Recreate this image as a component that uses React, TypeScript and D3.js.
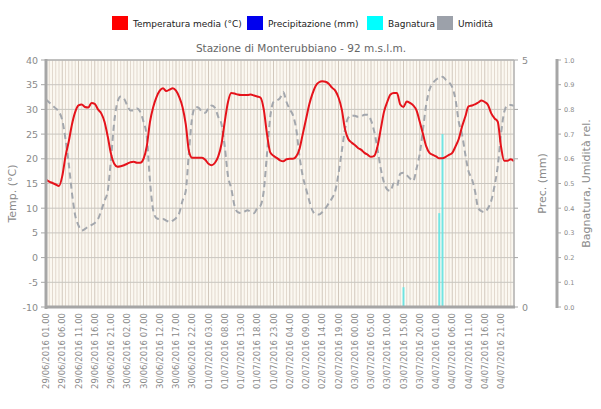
import React from "react";
import * as d3 from "d3";

// Hourly series starting 29/06/2016 01:00 (index 0) to 05/07/2016 01:00 (index 144)
const temperature: number[] = [
  15.8, 15.4, 15.1, 14.8, 14.5, 16.5, 20.5, 23.5, 27.0, 29.5,
  30.8, 31.0, 30.5, 30.4, 31.3, 31.1, 30.0, 29.2, 27.5, 24.5,
  21.0, 19.0, 18.4, 18.5, 18.7, 19.0, 19.3, 19.4, 19.2, 19.2,
  20.0, 22.5, 27.5, 30.5, 32.5, 33.8, 34.3, 33.7, 34.0, 34.3,
  33.8, 32.5, 30.5, 27.0, 21.5, 20.2, 20.2, 20.2, 20.2, 19.8,
  19.0, 18.7, 19.2, 20.5, 23.0, 27.5, 31.5, 33.3, 33.2, 33.0,
  32.9, 32.9, 32.9, 33.0, 32.8, 32.6, 32.4, 30.0, 25.0, 21.3,
  20.6, 20.2, 19.7, 19.5, 19.9, 20.0, 20.0, 20.5, 22.0, 25.0,
  28.0, 31.0, 33.2, 34.8, 35.5, 35.7, 35.6, 35.2, 34.4, 33.8,
  32.4, 30.0, 26.0, 24.0, 23.3, 22.8, 22.2, 21.8, 21.2, 20.8,
  20.4, 20.6, 22.5, 26.0, 29.5, 31.5, 33.0, 33.3, 33.3, 31.0,
  30.5, 31.6, 31.3, 30.8, 29.8, 27.5, 25.0, 22.5, 21.2, 20.8,
  20.5, 20.1, 20.1, 20.4, 20.8, 21.2, 22.5, 24.0, 26.5, 28.5,
  30.6, 30.8, 31.0, 31.4, 31.8, 31.5, 30.9, 29.2, 28.2, 27.5,
  22.5, 19.6, 19.6, 19.9, 19.5,
];

const humidity: number[] = [
  0.84, 0.828, 0.816, 0.804, 0.79, 0.756, 0.68, 0.58, 0.46, 0.37,
  0.33, 0.31, 0.316, 0.326, 0.332, 0.34, 0.356, 0.39, 0.43, 0.47,
  0.6, 0.75, 0.83, 0.852, 0.844, 0.816, 0.796, 0.796, 0.804, 0.79,
  0.75, 0.69, 0.51, 0.39, 0.36, 0.356, 0.356, 0.35, 0.344, 0.35,
  0.36, 0.38, 0.43, 0.47, 0.63, 0.77, 0.81, 0.806, 0.79, 0.786,
  0.806, 0.816, 0.806, 0.77, 0.74, 0.65, 0.53, 0.48, 0.41, 0.384,
  0.38, 0.386, 0.392, 0.386, 0.38, 0.4, 0.41, 0.47, 0.62, 0.77,
  0.83, 0.836, 0.846, 0.87, 0.83, 0.8, 0.776, 0.72, 0.61, 0.53,
  0.48, 0.43, 0.39, 0.376, 0.374, 0.384, 0.4, 0.42, 0.44, 0.47,
  0.54, 0.63, 0.72, 0.766, 0.776, 0.774, 0.77, 0.772, 0.778, 0.778,
  0.756, 0.71, 0.64, 0.56, 0.504, 0.476, 0.47, 0.5, 0.49, 0.54,
  0.544, 0.534, 0.52, 0.51, 0.56, 0.62, 0.72, 0.82, 0.88, 0.906,
  0.92, 0.928, 0.932, 0.92, 0.91, 0.89, 0.84, 0.75, 0.7, 0.62,
  0.55, 0.52, 0.47, 0.4, 0.388, 0.384, 0.4, 0.43, 0.49, 0.57,
  0.7, 0.79, 0.816, 0.818, 0.814,
];

const wetnessHours: number[] = [110, 121, 122];
const wetnessValues: number[] = [0.08, 0.38, 0.7];

const tickLabels: string[] = [
  "29/06/2016 01.00", "29/06/2016 06.00", "29/06/2016 11.00", "29/06/2016 16.00", "29/06/2016 21.00",
  "30/06/2016 02.00", "30/06/2016 07.00", "30/06/2016 12.00", "30/06/2016 17.00", "30/06/2016 22.00",
  "01/07/2016 03.00", "01/07/2016 08.00", "01/07/2016 13.00", "01/07/2016 18.00", "01/07/2016 23.00",
  "02/07/2016 04.00", "02/07/2016 09.00", "02/07/2016 14.00", "02/07/2016 19.00",
  "03/07/2016 00.00", "03/07/2016 05.00", "03/07/2016 10.00", "03/07/2016 15.00", "03/07/2016 20.00",
  "04/07/2016 01.00", "04/07/2016 06.00", "04/07/2016 11.00", "04/07/2016 16.00", "04/07/2016 21.00",
];
const tickStep = 5;

const tempTicks: number[] = [-10, -5, 0, 5, 10, 15, 20, 25, 30, 35, 40];
const relTicks: number[] = [0, 0.1, 0.2, 0.3, 0.4, 0.5, 0.6, 0.7, 0.8, 0.9, 1.0];

const legendItems: { label: string; color: string }[] = [
  { label: "Temperatura media (°C)", color: "#ff0000" },
  { label: "Precipitazione (mm)", color: "#0000ee" },
  { label: "Bagnatura", color: "#00ffff" },
  { label: "Umidità", color: "#9ca1aa" },
];

const FONT = "'DejaVu Sans', Verdana, sans-serif";

export default function App() {
  const L = 46, R = 514, T = 60, B = 307;
  const n = temperature.length;
  const x = d3.scaleLinear().domain([0, n - 1]).range([L, R]);
  const yT = d3.scaleLinear().domain([-10, 40]).range([B, T]);
  const yRel = d3.scaleLinear().domain([0, 1]).range([B, T]);
  const yP = d3.scaleLinear().domain([0, 5]).range([B, T]);

  const tLine = d3.line<number>().x((_, i) => x(i)).y((d) => yT(d)).curve(d3.curveMonotoneX);
  const hLine = d3.line<number>().x((_, i) => x(i)).y((d) => yRel(d)).curve(d3.curveMonotoneX);

  const hours = d3.range(n);
  const legendX = [112, 247, 367, 437];
  const axisColor = "#a6a6a6";
  const textColor = "#8a8a8a";

  return (
    <svg width={601} height={409} style={{ position: "absolute", left: 0, top: 0, background: "#fff" }}>
      {/* legend */}
      {legendItems.map((it, k) => (
        <g key={it.label} transform={`translate(${legendX[k]},16)`}>
          <rect width={16} height={14} fill={it.color} />
          <text x={21} y={11} fontFamily={FONT} fontSize={9} fill="#222">{it.label}</text>
        </g>
      ))}
      <text x={301} y={52} textAnchor="middle" fontFamily={FONT} fontSize={10.5} fill="#666">
        Stazione di Monterubbiano - 92 m.s.l.m.
      </text>

      {/* plot background */}
      <rect x={L} y={T} width={R - L} height={B - T} fill="#fbf8f1" />
      {hours.map((h) => (
        <line key={"v" + h} x1={x(h)} x2={x(h)} y1={T} y2={B}
          stroke={h % tickStep === 0 ? "#d2c8bc" : "#e2d9ce"} strokeWidth={1} />
      ))}
      {tempTicks.map((t) => (
        <line key={"h" + t} x1={L} x2={R} y1={yT(t)} y2={yT(t)} stroke="#c9c6c0" strokeWidth={1} />
      ))}

      {/* wetness bars */}
      {wetnessHours.map((h, k) => (
        <rect key={"w" + h} x={x(h) - 1} y={yRel(wetnessValues[k])} width={2}
          height={B - yRel(wetnessValues[k])} fill="#5ee6e6" opacity={0.85} />
      ))}

      {/* humidity */}
      <path d={hLine(humidity) || ""} fill="none" stroke="#a3a7ad" strokeWidth={2} strokeDasharray="6,4" />
      {/* temperature */}
      <path d={tLine(temperature) || ""} fill="none" stroke="#e5131b" strokeWidth={2} />

      {/* frame */}
      <line x1={L} x2={R} y1={T} y2={T} stroke="#b5b5b5" strokeWidth={1.5} />
      <line x1={R} x2={R} y1={T} y2={B} stroke="#b5b5b5" strokeWidth={1.5} />
      <line x1={L} x2={L} y1={T - 1} y2={B + 2} stroke={axisColor} strokeWidth={3} />
      <line x1={L - 1} x2={R + 1} y1={B} y2={B} stroke={axisColor} strokeWidth={3} />

      {/* left axis */}
      {tempTicks.map((t) => (
        <g key={"lt" + t}>
          <line x1={L - 5} x2={L} y1={yT(t)} y2={yT(t)} stroke={axisColor} strokeWidth={1} />
          <text x={L - 8} y={yT(t) + 3.5} textAnchor="end" fontFamily={FONT} fontSize={9.5} fill={textColor}>{t}</text>
        </g>
      ))}
      <text transform={`translate(16,${(T + B) / 2 + 10}) rotate(-90)`} textAnchor="middle"
        fontFamily={FONT} fontSize={11} fill={textColor}>Temp. (°C)</text>

      {/* precipitation axis */}
      {d3.range(0, 6).map((p) => (
        <line key={"pt" + p} x1={R} x2={R + 4} y1={yP(p)} y2={yP(p)} stroke={axisColor} strokeWidth={1} />
      ))}
      {[0, 5].map((p) => (
        <text key={"pl" + p} x={R + 8} y={yP(p) + 3.5} fontFamily={FONT} fontSize={9.5} fill={textColor}>{p}</text>
      ))}
      <text transform={`translate(546,${(T + B) / 2}) rotate(-90)`} textAnchor="middle"
        fontFamily={FONT} fontSize={11} fill={textColor}>Prec. (mm)</text>

      {/* relative axis */}
      <line x1={557} x2={557} y1={T - 1} y2={B + 1} stroke={axisColor} strokeWidth={3} />
      {relTicks.map((v) => (
        <g key={"rt" + v}>
          <line x1={557} x2={561} y1={yRel(v)} y2={yRel(v)} stroke={axisColor} strokeWidth={1} />
          <text x={564} y={yRel(v) + 2.5} fontFamily={FONT} fontSize={6.5} fill={textColor}>{v.toFixed(1)}</text>
        </g>
      ))}
      <text transform={`translate(590,${(T + B) / 2}) rotate(-90)`} textAnchor="middle"
        fontFamily={FONT} fontSize={11} fill={textColor}>Bagnatura, Umidità rel.</text>

      {/* x labels */}
      {tickLabels.map((lab, k) => (
        <text key={lab} transform={`translate(${x(k * tickStep) + 3},${B + 6}) rotate(-90)`} textAnchor="end"
          fontFamily={FONT} fontSize={8.5} fill={textColor}>{lab}</text>
      ))}
    </svg>
  );
}
